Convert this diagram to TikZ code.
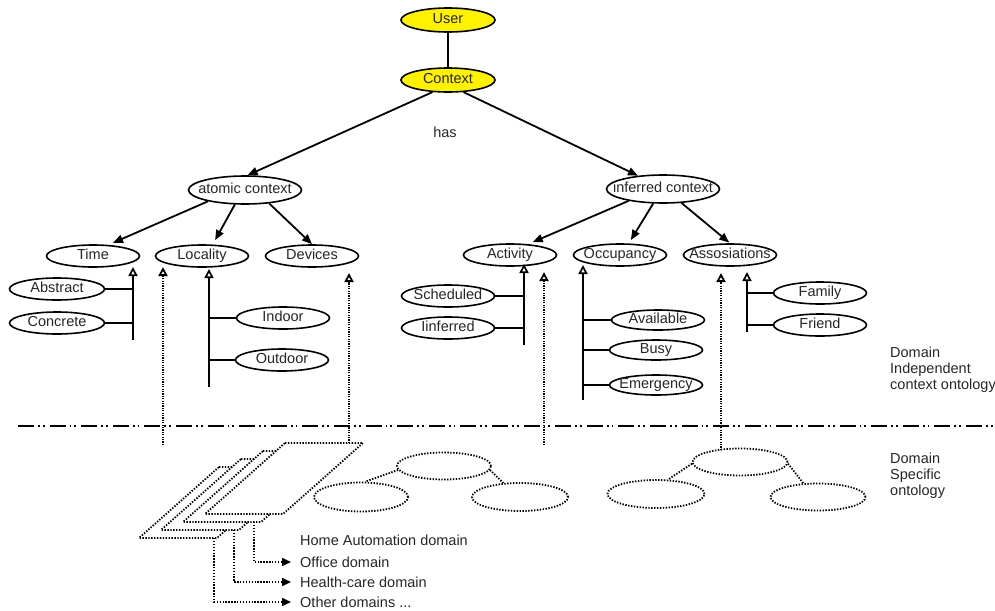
\documentclass[tikz,border=0pt]{standalone}
\usepackage{fontspec}
\setmainfont{Liberation Sans}
\usetikzlibrary{shapes.geometric,arrows.meta,calc}
\newcommand\fs{\fontsize{14.5}{16}\selectfont}
\newcommand\zt[1]{\makebox[0pt]{#1}}
\begin{document}
\begin{tikzpicture}[x=1pt,y=-1pt,
  every node/.style={font=\fs, text=black!85},
  ov/.style={ellipse, draw, line width=1.6pt, minimum width=93pt, minimum height=22pt,
    inner sep=0pt, text height=10.5pt, text depth=3pt, fill=white},
  topov/.style={ov, fill=yellow, minimum width=94pt, minimum height=24pt},
  midov/.style={ov, minimum width=113pt, minimum height=28pt},
  arr/.style={line width=1.8pt, -{Triangle[length=10pt,width=8pt]}},
  isa/.style={line width=1.7pt, -{Triangle[open,length=9pt,width=9pt]}},
  hl/.style={line width=1.7pt},
  dotv/.style={line width=1.8pt, dash pattern=on 1.2pt off 1.2pt, -{Triangle[open,length=9pt,width=9pt]}},
  sepl/.style={line width=2pt, dash pattern=on 16pt off 4pt on 1.8pt off 3pt on 1.8pt off 5pt},
  dotb/.style={line width=1.8pt, dash pattern=on 1.4pt off 1.5pt},
  dell/.style={ellipse, draw, dotb, inner sep=0pt, fill=white},
  txt/.style={inner sep=0pt, anchor=west}
]
\useasboundingbox (0,0) rectangle (995,610);

% ---------- top ----------
\node[topov] (user) at (448,20) {\zt{User}};
\node[topov] (ctx) at (448,80) {\zt{Context}};
\node[midov] (ac) at (245,190) {\zt{atomic context}};
\node[midov] (ic) at (663,189) {\zt{inferred context}};
\node[inner sep=0pt] (has) at (445,132) {has};

\draw[hl] (user) -- (ctx);
\draw[arr] (ctx.218) -- (ac.80);
\draw[arr] (ctx.322) -- (ic.152);

% ---------- level 2 ----------
\node[ov] (time) at (93,256) {\zt{Time}};
\node[ov] (loc) at (202,256) {\zt{Locality}};
\node[ov] (dev) at (312,256) {\zt{Devices}};
\node[ov] (act) at (510,255) {\zt{Activity}};
\node[ov] (occ) at (620,255) {\zt{Occupancy}};
\node[ov] (ass) at (730,255) {\zt{Assosiations}};

\draw[arr, shorten >=5pt] (ac.197) -- (time.36);
\draw[arr, shorten >=5pt] (ac.235) -- (loc.47);
\draw[arr] (ac.331) -- (dev.north);
\draw[arr, shorten >=5pt] (ic.199) -- (act.31);
\draw[arr, shorten >=4pt] (ic.236) -- (occ.53);
\draw[arr, shorten >=1pt] (ic.323) -- (ass.north);

% ---------- level 3 ----------
\node[ov, minimum width=95pt] (abs) at (57,289) {\zt{Abstract}};
\node[ov, minimum width=95pt] (con) at (57,323) {\zt{Concrete}};
\node[ov] (ind) at (283,318) {\zt{Indoor}};
\node[ov] (out) at (282,360) {\zt{Outdoor}};
\node[ov] (sch) at (448,296) {\zt{Scheduled}};
\node[ov] (iinf) at (448,328) {\zt{Iinferred}};
\node[ov, minimum height=20pt] (avl) at (658,320) {\zt{Available}};
\node[ov, minimum height=20pt] (busy) at (656,350) {\zt{Busy}};
\node[ov, minimum height=20pt] (emg) at (656,385) {\zt{Emergency}};
\node[ov] (fam) at (820,293) {\zt{Family}};
\node[ov] (fri) at (820,325) {\zt{Friend}};

% is-a lines
\coordinate (tT) at (133,267); \coordinate (tB) at (133,340);
\coordinate (lT) at (209,269); \coordinate (lB) at (209,387);
\coordinate (aT) at (524,264); \coordinate (aB) at (524,345);
\coordinate (oT) at (583,265); \coordinate (oB) at (583,400);
\coordinate (sT) at (747,272); \coordinate (sB) at (747,332);
\draw[isa] (tB) -- (tT);
\draw[isa] (lB) -- (lT);
\draw[isa] (aB) -- (aT);
\draw[isa] (oB) -- (oT);
\draw[isa] (sB) -- (sT);
\draw[hl] (abs.east) -- (abs.east -| tT);
\draw[hl] (con.east) -- (con.east -| tT);
\draw[hl] (ind.west) -- (ind.west -| lT);
\draw[hl] (out.west) -- (out.west -| lT);
\draw[hl] (sch.east) -- (sch.east -| aT);
\draw[hl] (iinf.east) -- (iinf.east -| aT);
\draw[hl] (avl.west) -- (avl.west -| oT);
\draw[hl] (busy.west) -- (busy.west -| oT);
\draw[hl] (emg.west) -- (emg.west -| oT);
\draw[hl] (fam.west) -- (fam.west -| sT);
\draw[hl] (fri.west) -- (fri.west -| sT);

% ---------- separator ----------
\coordinate (sepL) at (18,426);
\coordinate (sepR) at (995,426);
\draw[sepl] (sepL) -- (sepR);

% ---------- domain specific: stacked planes ----------
\foreach \k in {3,2,1,0}{
  \draw[dotb, fill=white] ({285-22*\k},{443+8*\k}) -- ({363-22*\k},{443+8*\k})
     -- ({283-22*\k},{514+8*\k}) -- ({205-22*\k},{514+8*\k}) -- cycle;
}
\coordinate (p0t) at (349,443);
\coordinate (p1b) at (254,522);
\coordinate (p2b) at (234,530);
\coordinate (p3b) at (214,538);

\node[txt] (home) at (300,540) {Home Automation domain};
\node[txt] (office) at (300,562) {Office domain};
\node[txt] (health) at (300,582) {Health-care domain};
\node[txt] (other) at (300,602) {Other domains ...};

\draw[dotb, -{Triangle[length=9pt,width=8pt]}, shorten >=9pt] (p1b) |- (office.west);
\draw[dotb, -{Triangle[length=9pt,width=8pt]}, shorten >=9pt] (p2b) |- (health.west);
\draw[dotb, -{Triangle[length=9pt,width=8pt]}, shorten >=9pt] (p3b) |- (other.west);

% ---------- domain specific ellipses ----------
\node[dell, minimum width=94pt, minimum height=27pt] (mt) at (444,466) {};
\node[dell, minimum width=94pt, minimum height=29pt] (ml) at (361,497) {};
\node[dell, minimum width=96pt, minimum height=28pt] (mr) at (520,497) {};
\draw[dotb] (mt.185) -- (ml.75);
\draw[dotb] (mt.355) -- (mr.140);

\node[dell, minimum width=95pt, minimum height=27pt] (rt) at (740,462) {};
\node[dell, minimum width=97pt, minimum height=28pt] (rl) at (656,494) {};
\node[dell, minimum width=95pt, minimum height=27pt] (rr) at (818,497) {};
\draw[dotb] (rt.182) -- (rl.50);
\draw[dotb] (rt.358) -- (rr.137);

% ---------- dotted dependency lines ----------
\coordinate (d1b) at (163,445); \coordinate (d1t) at (163,267);
\coordinate (d2t) at (349,273);
\coordinate (d3b) at (544,445); \coordinate (d3t) at (544,272);
\coordinate (d4b) at (721,450); \coordinate (d4t) at (721,273);
\draw[dotv] (d1b) -- (d1t);
\draw[dotv] (p0t) -- (d2t);
\draw[dotv] (d3b) -- (d3t);
\draw[dotv] (d4b) -- (d4t);

% ---------- side labels ----------
\node[inner sep=0pt, anchor=north west, align=left] (lbl1) at (890,346.5) {Domain\\Independent\\context ontology};
\node[inner sep=0pt, anchor=north west, align=left] (lbl2) at (890,452.5) {Domain\\Specific\\ontology};
\end{tikzpicture}
\end{document}
